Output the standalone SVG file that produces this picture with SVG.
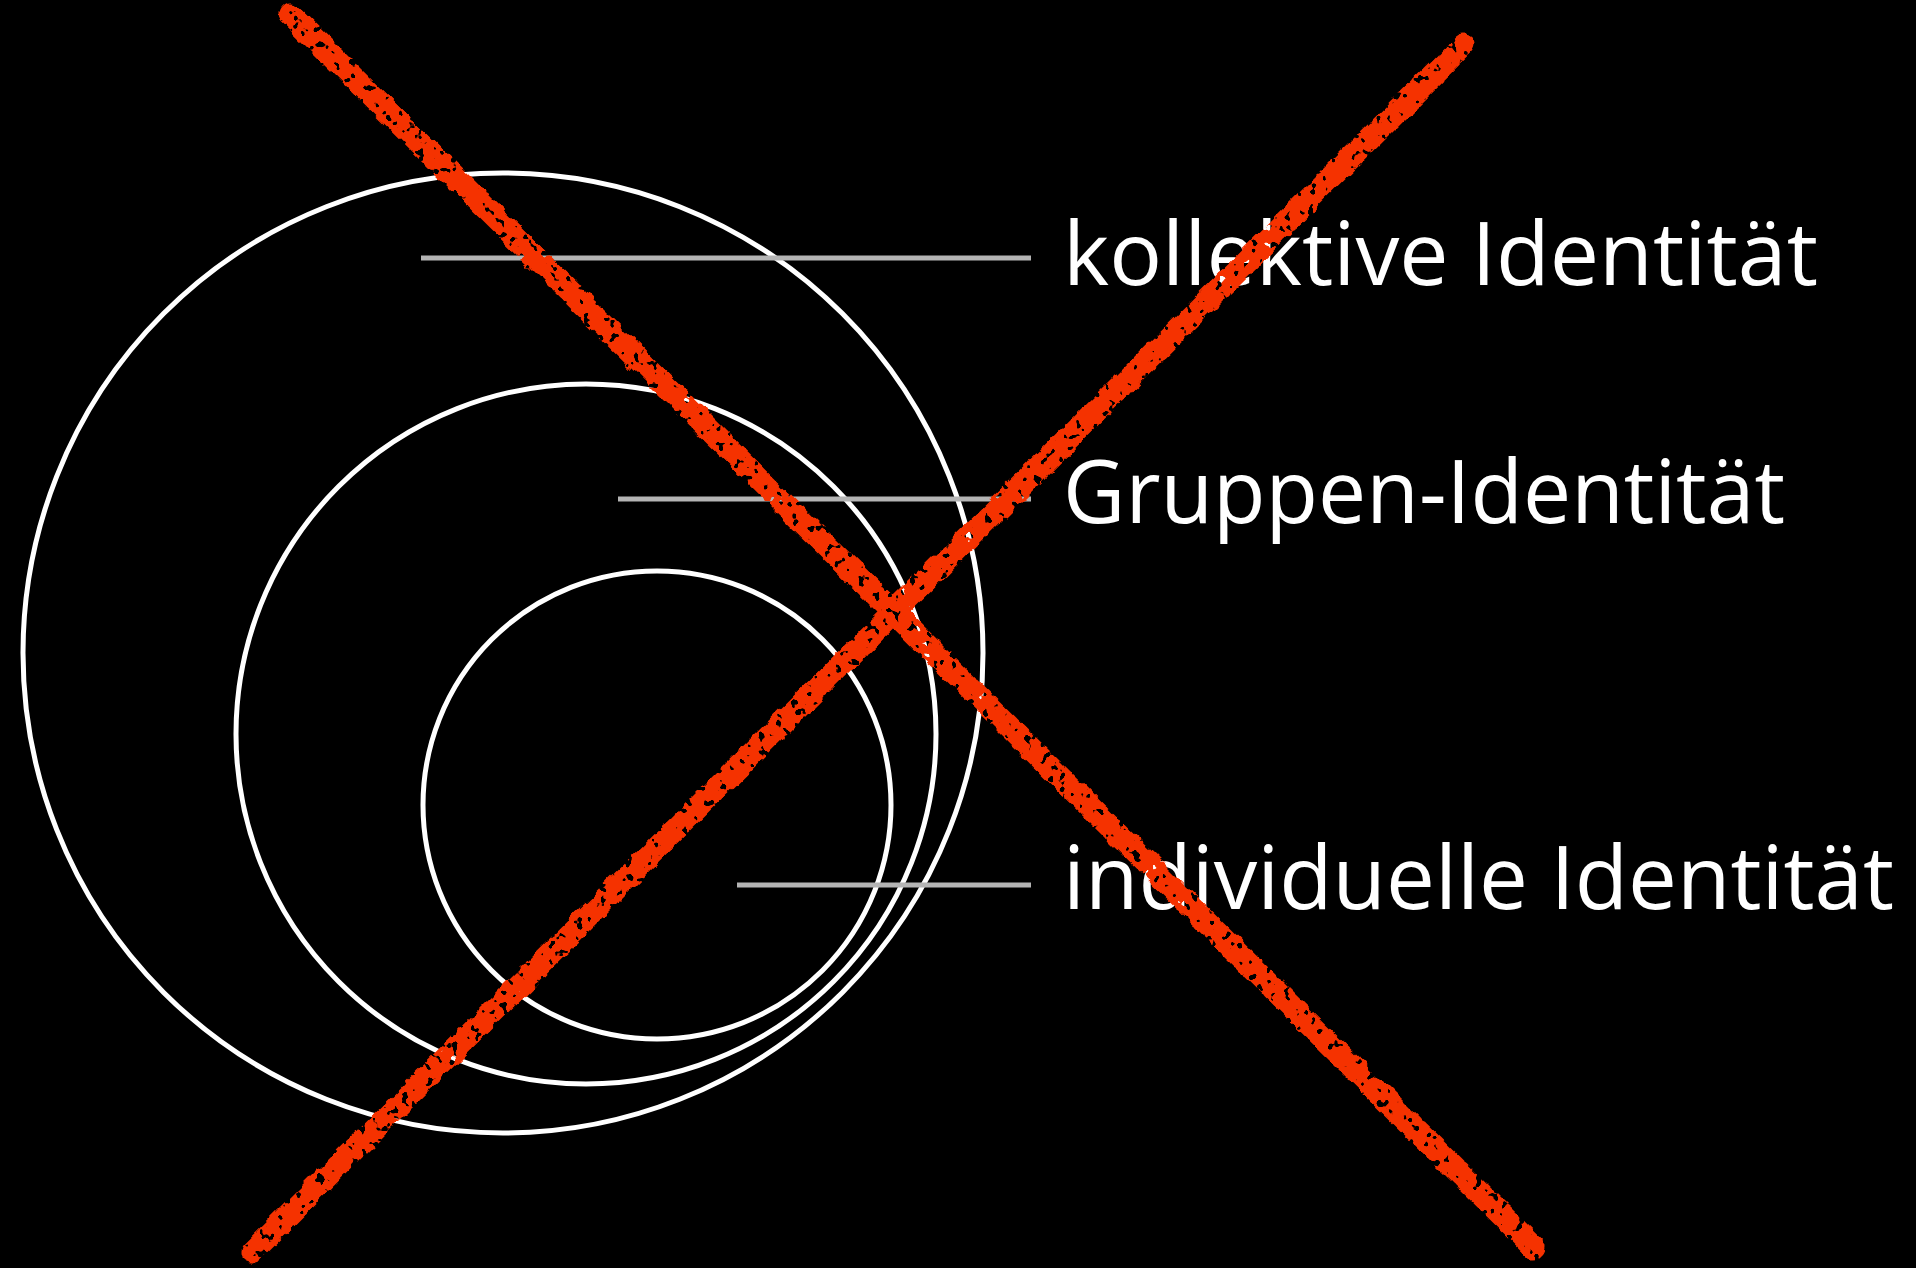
<svg xmlns="http://www.w3.org/2000/svg" width="1916" height="1268" viewBox="0 0 1916 1268">
  <defs>
    <style>
      .ring { fill: none; stroke: #ffffff; stroke-width: 5; }
      .leader { stroke: #b4b4b4; stroke-width: 5; fill: none; }
      .label { fill: #ffffff; font-family: "Open Sans", "Noto Sans", "Liberation Sans", sans-serif; font-size: 87px; }
      .cross { stroke: #f53200; stroke-linecap: round; fill: none; }
    </style>
    <filter id="chalk" x="-10%" y="-10%" width="120%" height="120%">
      <feTurbulence type="fractalNoise" baseFrequency="0.06" numOctaves="3" seed="4" result="noise"/>
      <feDisplacementMap in="SourceGraphic" in2="noise" scale="9" xChannelSelector="R" yChannelSelector="G" result="disp"/>
      <feTurbulence type="fractalNoise" baseFrequency="0.12" numOctaves="2" seed="9" result="speck"/>
      <feColorMatrix in="speck" type="matrix" values="0 0 0 0 0  0 0 0 0 0  0 0 0 0 0  0 0 0 -25 17" result="speckMask"/>
      <feComposite in="disp" in2="speckMask" operator="in"/>
    </filter>
  </defs>
  <rect width="1916" height="1268" fill="#000000"/>

  <g id="circle-collective"><circle class="ring" cx="503" cy="653" r="480"/></g>
  <g id="circle-group"><circle class="ring" cx="586" cy="734" r="350"/></g>
  <g id="circle-individual"><circle class="ring" cx="657" cy="805" r="234"/></g>

  <g id="connectors">
    <line class="leader" x1="421" y1="258" x2="1031" y2="258"/>
    <line class="leader" x1="618" y1="499" x2="1031" y2="499"/>
    <line class="leader" x1="737" y1="885" x2="1031" y2="885"/>
  </g>

  <g id="label-collective"><text class="label" x="1063" y="285" textLength="755" lengthAdjust="spacingAndGlyphs">kollektive Identität</text></g>
  <g id="label-group"><text class="label" x="1063" y="523" textLength="722" lengthAdjust="spacingAndGlyphs">Gruppen-Identität</text></g>
  <g id="label-individual"><text class="label" x="1063" y="909" textLength="831" lengthAdjust="spacingAndGlyphs">individuelle Identität</text></g>

  <g id="cross" filter="url(#chalk)">
    <line class="cross" stroke-width="23" x1="290" y1="14" x2="1534" y2="1247"/>
    <line class="cross" stroke-width="12" x1="298" y1="14" x2="1530" y2="1238"/>
    <line class="cross" stroke-width="23" x1="251" y1="1252" x2="1464" y2="45"/>
    <line class="cross" stroke-width="12" x1="256" y1="1244" x2="1460" y2="52"/>
  </g>
</svg>
